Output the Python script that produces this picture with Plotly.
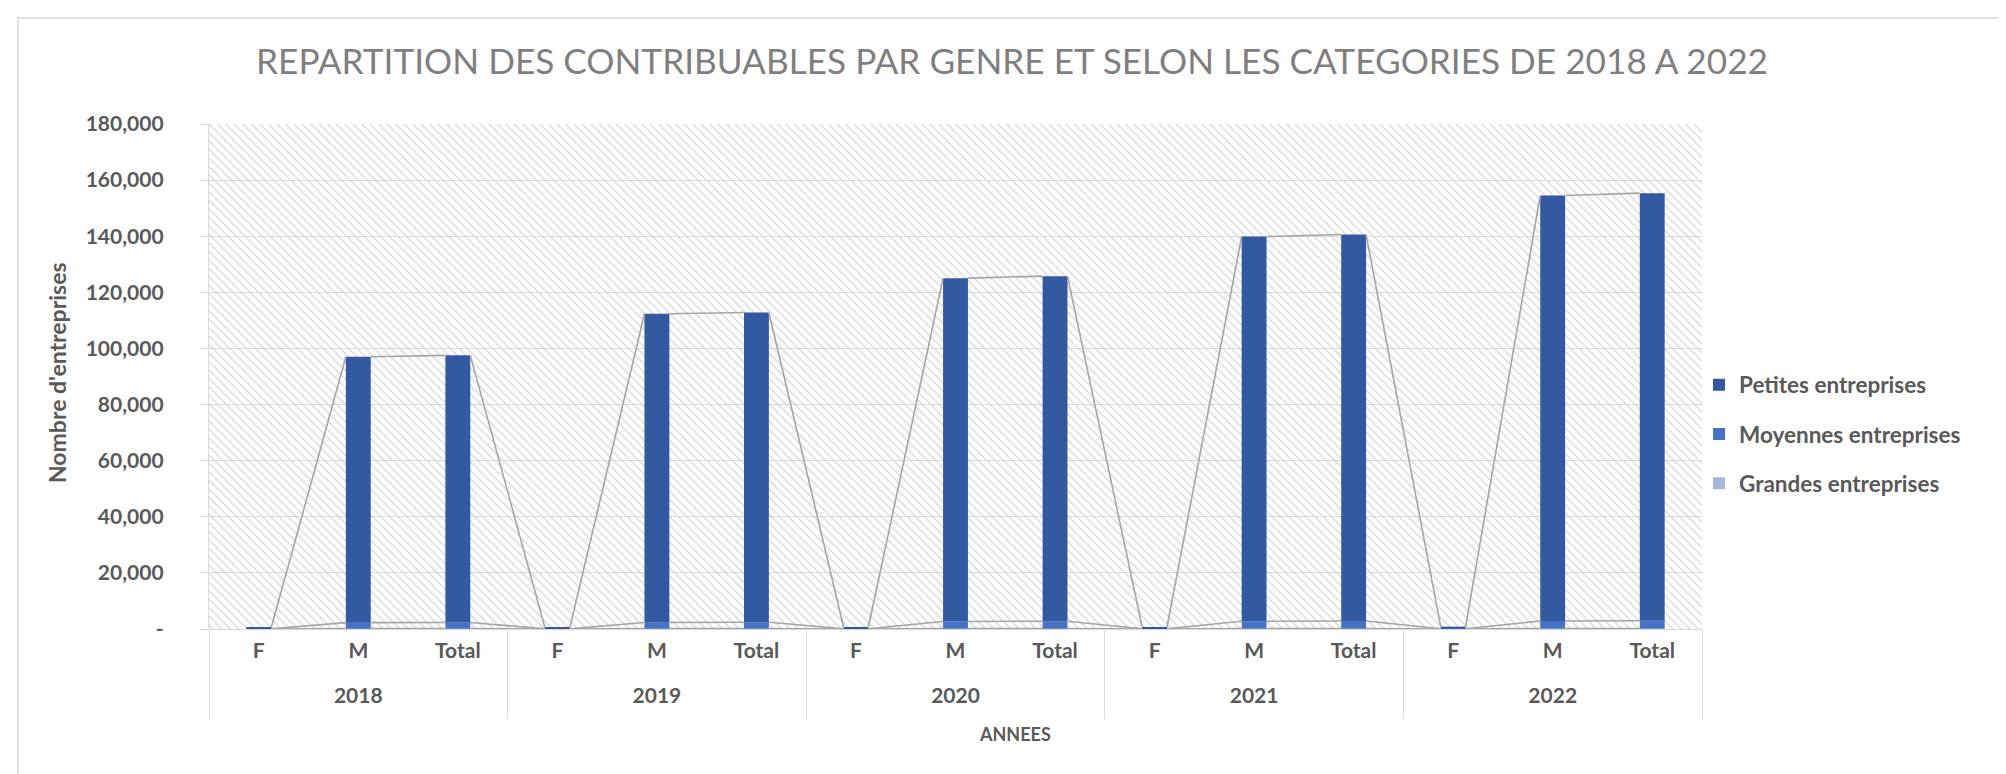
import plotly.graph_objects as go

# ---------------- data ----------------
years = ["2018", "2019", "2020", "2021", "2022"]
genres = ["F", "M", "Total"]

petites = [405, 94790, 95195, 405, 110020, 110425, 620, 122370, 122990,
           625, 137130, 137755, 745, 151660, 152405]
moyennes = [60, 2150, 2210, 65, 2200, 2265, 75, 2550, 2625,
            80, 2600, 2680, 90, 2700, 2790]
grandes = [5, 120, 125, 5, 130, 135, 5, 140, 145,
           5, 150, 155, 5, 160, 165]

y_tickvals = [0, 20000, 40000, 60000, 80000, 100000, 120000, 140000, 160000, 180000]
y_ticktext = ["-", "20,000", "40,000", "60,000", "80,000", "100,000",
              "120,000", "140,000", "160,000", "180,000"]

title_text = "REPARTITION DES CONTRIBUABLES PAR GENRE ET SELON LES CATEGORIES DE 2018 A 2022"
x_title = "ANNEES"
y_title = "Nombre d'entreprises"

# ---------------- layout constants (pixels) ----------------
W, H = 2006, 774
L, R, T, B = 201, 312, 116, 153
PW, PH = W - L - R, H - T - B

def px_x(x):
    return (x - L) / PW

def px_y(y):
    return (H - B - y) / PH

FONT = "Lato"
TXT = "#595959"
GRID = "#D9D9D9"
BAR_W = 0.25

inner = [g for y in years for g in genres]
n = len(inner)
pos = list(range(n))
k = len(genres)
year_pos = [i * k + (k - 1) / 2 for i in range(len(years))]
divider_pos = [i * k - 0.5 for i in range(len(years) + 1)]
x_range = [-0.5, n - 0.5]

series = [
    ("Grandes entreprises", grandes, "#A9B7DE", 3),
    ("Moyennes entreprises", moyennes, "#4472C4", 2),
    ("Petites entreprises", petites, "#335AA1", 1),
]

fig = go.Figure()

# hatched plot-area background
fig.add_trace(go.Bar(
    x=[(x_range[0] + x_range[1]) / 2], y=[y_tickvals[-1]], base=[0],
    width=[x_range[1] - x_range[0]],
    marker=dict(color="rgba(0,0,0,0)", line=dict(width=0),
                pattern=dict(shape="\\", fgcolor="#D4D4D4", size=6,
                             solidity=0.2, fillmode="replace")),
    showlegend=False, hoverinfo="skip"))

cum = [0] * n
tops = []
for name, vals, color, rank in series:
    base = cum[:]
    cum = [c + v for c, v in zip(cum, vals)]
    tops.append(cum)
    fig.add_trace(go.Bar(
        x=pos, y=vals, base=base, width=BAR_W, name=name,
        marker=dict(color=color, line=dict(width=0)),
        legendgroup=name, legendrank=rank))

# series lines (connect stack tops between adjacent bars)
for top in tops:
    xs, ys = [], []
    for i in range(n - 1):
        xs += [pos[i] + BAR_W / 2, pos[i + 1] - BAR_W / 2, None]
        ys += [top[i], top[i + 1], None]
    fig.add_trace(go.Scatter(
        x=xs, y=ys, mode="lines",
        line=dict(color="#A5A5A5", width=1.6),
        showlegend=False, hoverinfo="skip"))

# helper invisible traces so the overlay axes exist
for ax in ("x2", "x3"):
    fig.add_trace(go.Scatter(x=[pos[0]], y=[None], xaxis=ax, mode="markers",
                             showlegend=False, hoverinfo="skip"))

tickfont = dict(family=FONT, size=21, color=TXT, weight="bold")

fig.update_layout(
    width=W, height=H,
    margin=dict(l=L, r=R, t=T, b=B, autoexpand=False),
    paper_bgcolor="white", plot_bgcolor="white",
    barmode="overlay",
    font=dict(family=FONT, color=TXT),
    title=dict(text=title_text, x=1004 / W, xref="container", xanchor="center",
               y=1 - 54 / H, yref="container", yanchor="middle",
               font=dict(family=FONT, size=35.2, color="#7F7F7F", weight=400)),
    xaxis=dict(range=x_range, tickvals=pos, ticktext=inner, automargin=False,
               showline=True, linecolor=GRID, linewidth=1.3,
               showgrid=False, zeroline=False, ticks="",
               ticklabelstandoff=3, tickfont=tickfont),
    xaxis2=dict(overlaying="x", anchor="y", side="bottom", range=x_range,
                tickvals=year_pos, ticktext=years, automargin=False,
                showline=False, showgrid=False, zeroline=False, ticks="",
                ticklabelstandoff=52, tickfont=tickfont),
    xaxis3=dict(overlaying="x", anchor="y", side="bottom", range=x_range,
                tickvals=divider_pos, showticklabels=False, automargin=False,
                showline=False, showgrid=False, zeroline=False,
                ticks="outside", ticklen=89, tickcolor=GRID, tickwidth=1.3),
    yaxis=dict(range=[0, y_tickvals[-1]], tickvals=y_tickvals, ticktext=y_ticktext,
               automargin=False,
               showgrid=True, gridcolor=GRID, gridwidth=1.3, zeroline=False,
               showline=True, linecolor=GRID, linewidth=1.3,
               ticks="outside", ticklen=8, tickcolor=GRID, tickwidth=1.3,
               ticklabelstandoff=32, tickfont=tickfont),
    legend=dict(x=px_x(1691), xanchor="left", y=px_y(426), yanchor="middle",
                traceorder="grouped", tracegroupgap=17,
                font=dict(family=FONT, size=22.5, color=TXT, weight="bold"),
                bgcolor="rgba(0,0,0,0)"),
    annotations=[
        dict(text=x_title, xref="paper", yref="paper", x=px_x(1007), y=px_y(726),
             showarrow=False, xanchor="center", yanchor="middle",
             font=dict(family=FONT, size=18, color=TXT, weight="bold")),
        dict(text=y_title, xref="paper", yref="paper", x=px_x(49), y=px_y(365),
             showarrow=False, textangle=-90, xanchor="center", yanchor="middle",
             font=dict(family=FONT, size=23, color=TXT, weight="bold")),
    ],
    shapes=[
        dict(type="rect", xref="paper", yref="paper",
             x0=px_x(10), x1=px_x(2003), y0=px_y(772), y1=px_y(10),
             line=dict(color=GRID, width=1.5), fillcolor="rgba(0,0,0,0)", layer="below"),
    ],
)

fig.write_html("out.html")
